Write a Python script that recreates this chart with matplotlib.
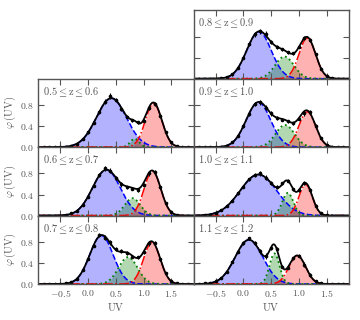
import numpy as np
import matplotlib
matplotlib.use("Agg")
import matplotlib.pyplot as plt
from matplotlib.ticker import FuncFormatter, MultipleLocator

plt.rcParams.update({
    "font.family": "serif",
    "font.serif": ["DejaVu Serif"],
    "mathtext.fontset": "cm",
    "font.size": 7,
})

# redshift bins, in plotting order
z_labels = ["0.5", "0.6", "0.7", "0.8", "0.9", "1.0", "1.1"]
z_upper = ["0.6", "0.7", "0.8", "0.9", "1.0", "1.1", "1.2"]

# gaussian components: (amplitude, centre, width)
blue_params = [(0.93, 0.42, 0.27), (0.87, 0.33, 0.25), (0.92, 0.24, 0.21),
               (0.89, 0.28, 0.22), (0.85, 0.27, 0.22), (0.78, 0.27, 0.33),
               (0.84, 0.10, 0.25)]
green_params = [(0.16, 0.84, 0.08), (0.33, 0.80, 0.14), (0.51, 0.72, 0.17),
                (0.42, 0.74, 0.17), (0.42, 0.75, 0.17), (0.43, 0.80, 0.10),
                (0.58, 0.56, 0.09)]
red_params = [(0.83, 1.18, 0.15), (0.84, 1.16, 0.15), (0.79, 1.15, 0.15),
              (0.77, 1.15, 0.15), (0.67, 1.15, 0.15), (0.59, 1.12, 0.12),
              (0.54, 0.97, 0.15)]

# binned data points
uv_pts = [-0.8, -0.7, -0.6, -0.5, -0.4, -0.3, -0.2, -0.1, 0.0, 0.1, 0.2, 0.3, 0.4,
          0.5, 0.6, 0.7, 0.8, 0.9, 1.0, 1.1, 1.2, 1.3, 1.4, 1.5, 1.6, 1.7, 1.8]
pts_05 = [0.0, 0.0, 0.0, 0.0, 0.01, 0.03, 0.06, 0.15, 0.28, 0.46, 0.66, 0.86, 0.97,
          0.90, 0.73, 0.58, 0.51, 0.47, 0.50, 0.75, 0.82, 0.60, 0.28, 0.09, 0.02, 0.0, 0.0]
pts_06 = [0.0, 0.0, 0.0, 0.0, 0.01, 0.04, 0.09, 0.20, 0.36, 0.57, 0.77, 0.90, 0.85,
          0.72, 0.59, 0.54, 0.51, 0.48, 0.58, 0.80, 0.83, 0.54, 0.23, 0.07, 0.01, 0.0, 0.0]
pts_07 = [0.0, 0.0, 0.0, 0.0, 0.01, 0.03, 0.10, 0.26, 0.48, 0.73, 0.93, 0.88, 0.79,
          0.67, 0.62, 0.59, 0.52, 0.51, 0.60, 0.77, 0.78, 0.47, 0.20, 0.05, 0.01, 0.0, 0.0]
pts_08 = [0.0, 0.0, 0.0, 0.0, 0.01, 0.03, 0.08, 0.20, 0.40, 0.65, 0.84, 0.90, 0.85,
          0.70, 0.60, 0.56, 0.50, 0.48, 0.61, 0.77, 0.74, 0.46, 0.19, 0.05, 0.01, 0.0, 0.0]
pts_09 = [0.0, 0.0, 0.0, 0.0, 0.01, 0.03, 0.09, 0.21, 0.40, 0.62, 0.82, 0.85, 0.75,
          0.64, 0.56, 0.52, 0.49, 0.45, 0.54, 0.64, 0.66, 0.40, 0.17, 0.04, 0.01, 0.0, 0.0]
pts_10 = [0.0, 0.01, 0.02, 0.05, 0.10, 0.18, 0.28, 0.42, 0.55, 0.69, 0.77, 0.80, 0.72,
          0.62, 0.54, 0.61, 0.66, 0.50, 0.48, 0.62, 0.48, 0.19, 0.04, 0.01, 0.0, 0.0, 0.0]
pts_11 = [0.0, 0.01, 0.02, 0.05, 0.11, 0.23, 0.41, 0.60, 0.78, 0.87, 0.78, 0.62, 0.53,
          0.69, 0.66, 0.33, 0.31, 0.49, 0.54, 0.37, 0.17, 0.05, 0.01, 0.0, 0.0, 0.0, 0.0]
points = [pts_05, pts_06, pts_07, pts_08, pts_09, pts_10, pts_11]

err_pts = [0.0, 0.0, 0.0, 0.01, 0.01, 0.01, 0.02, 0.02, 0.03, 0.03, 0.04, 0.05, 0.05,
           0.04, 0.04, 0.03, 0.03, 0.03, 0.03, 0.04, 0.04, 0.03, 0.02, 0.01, 0.01, 0.0, 0.0]

# grid position (row, col) of each redshift bin
positions = [(1, 0), (2, 0), (3, 0), (0, 1), (1, 1), (2, 1), (3, 1)]

grey = "#555555"


def gauss(x, p):
    a, mu, s = p
    return a * np.exp(-(x - mu) ** 2 / (2 * s ** 2))


fig, axes = plt.subplots(4, 2, figsize=(3.6, 3.2), dpi=100, sharex=True, sharey=True)
fig.subplots_adjust(left=0.106, right=0.969, bottom=0.1125, top=0.968, hspace=0, wspace=0)
axes[0, 0].axis("off")

x = np.linspace(-0.9, 1.9, 400)
fmt = FuncFormatter(lambda v, p: r"$%.1f$" % v)

for i, (r, c) in enumerate(positions):
    ax = axes[r, c]
    yb = gauss(x, blue_params[i])
    yg = gauss(x, green_params[i])
    yr = gauss(x, red_params[i])

    ax.fill_between(x, 0, yb, color="b", alpha=0.3, lw=0)
    ax.fill_between(x, 0, yg, color="g", alpha=0.3, lw=0)
    ax.fill_between(x, 0, yr, color="r", alpha=0.3, lw=0)
    ax.plot(x, yb, "b--", lw=1.1)
    ax.plot(x, yg, "g:", lw=1.3)
    ax.plot(x, yr, "r-.", lw=1.1)
    ax.plot(x, yb + yg + yr, "k-", lw=1.3)
    ax.errorbar(uv_pts, points[i], yerr=err_pts, fmt="o", color="k",
                ms=1.6, elinewidth=0.8, capsize=0)

    ax.text(0.03, 0.9, r"$%s \leq \mathrm{z} \leq %s$" % (z_labels[i], z_upper[i]),
            transform=ax.transAxes, ha="left", va="top", color=grey, fontsize=7.5)

    ax.set_xlim(-0.9, 1.9)
    ax.set_ylim(0, 1.3)
    ax.xaxis.set_major_locator(MultipleLocator(0.5))
    ax.set_yticks([0.0, 0.4, 0.8])
    ax.xaxis.set_major_formatter(fmt)
    ax.yaxis.set_major_formatter(fmt)
    ax.tick_params(direction="in", top=True, right=True, length=4, width=0.8,
                   colors=grey, labelsize=7, pad=3)
    for sp in ax.spines.values():
        sp.set_color(grey)
        sp.set_linewidth(1.0)

    if c == 0:
        ax.set_ylabel(r"$\varphi\,(\mathrm{UV})$", color=grey, fontsize=7.5, labelpad=1)
    if r == 3:
        ax.set_xlabel(r"$\mathrm{UV}$", color=grey, fontsize=7.5, labelpad=1)

fig.savefig("out.png", dpi=100)
